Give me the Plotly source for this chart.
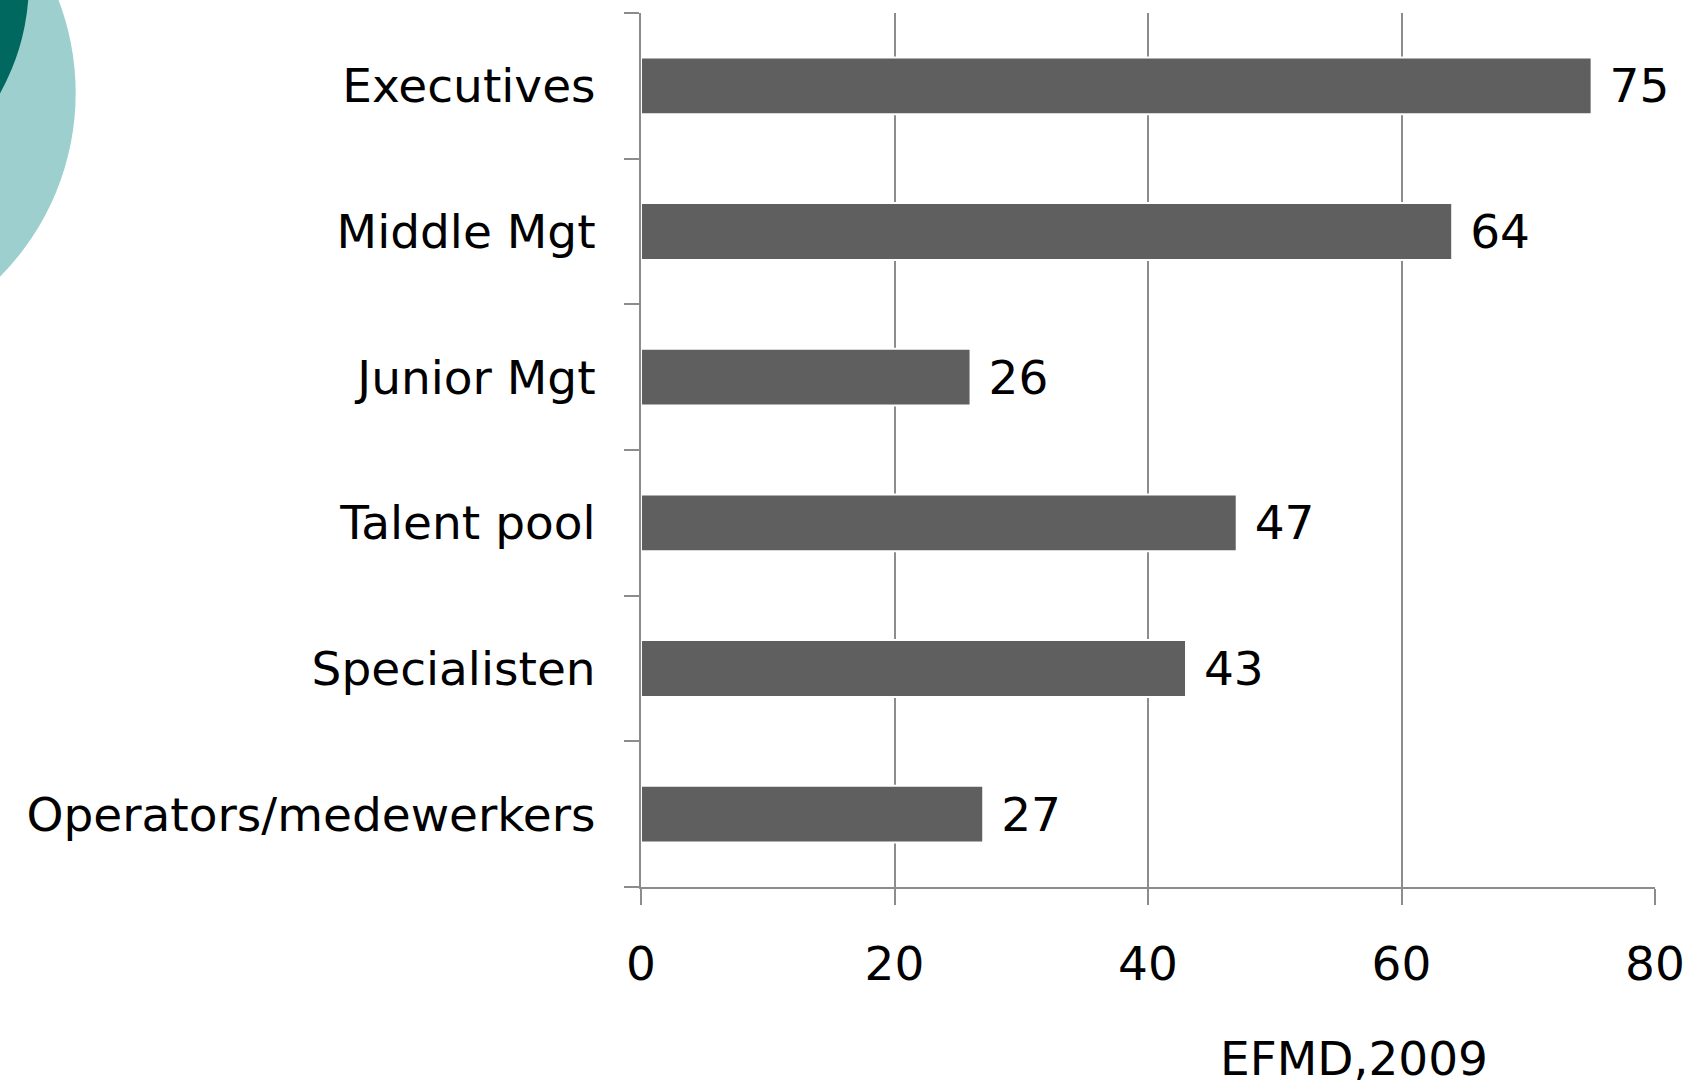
import plotly.graph_objects as go

categories = ["Executives", "Middle Mgt", "Junior Mgt", "Talent pool", "Specialisten", "Operators/medewerkers"]
values = [75, 64, 26, 47, 43, 27]
x_ticks = [0, 20, 40, 60, 80]
source_note = "EFMD,2009"

FONT = "DejaVu Sans, Verdana, sans-serif"
GRID = "#8c8c8c"

fig = go.Figure()
fig.add_trace(go.Bar(
    y=categories,
    x=values,
    orientation="h",
    marker=dict(color="#5f5f5f", line=dict(color="#ffffff", width=2)),
    text=values,
    texttemplate="\u00a0%{x}",
    textposition="outside",
    textfont=dict(family=FONT, size=47, color="#000000"),
    cliponaxis=False,
    showlegend=False,
))

# decorative circles (top-left corner)
fig.add_shape(type="circle", xref="paper", yref="paper",
              x0=-1.0717, x1=-0.5575, y0=0.6102, y1=1.2067,
              fillcolor="#9dcfce", line=dict(width=0), layer="below")
fig.add_shape(type="circle", xref="paper", yref="paper",
              x0=-1.0552, x1=-0.6036, y0=0.7735, y1=1.2975,
              fillcolor="#00685f", line=dict(width=0), layer="below")

fig.add_annotation(text=source_note, xref="paper", yref="paper",
                   x=0.703, y=-0.1965, xanchor="center", yanchor="middle",
                   showarrow=False, font=dict(family=FONT, size=47, color="#000000"))

fig.update_layout(
    width=1697, height=1086,
    margin=dict(l=641, r=42, t=13, b=199),
    paper_bgcolor="white", plot_bgcolor="white",
    bargap=0.61,
    font=dict(family=FONT, size=47, color="#000000"),
    xaxis=dict(
        range=[0, 80], tickvals=x_ticks, showgrid=True, gridcolor=GRID, gridwidth=1.5,
        showline=True, linecolor=GRID, linewidth=2, zeroline=False,
        ticks="outside", ticklen=16, tickcolor=GRID, tickwidth=1.5,
        ticklabelstandoff=19,
        tickfont=dict(family=FONT, size=47, color="#000000"),
    ),
    yaxis=dict(
        categoryorder="array", categoryarray=categories[::-1],
        showline=True, linecolor=GRID, linewidth=2, showgrid=False,
        ticks="outside", ticklen=15, tickcolor=GRID, tickwidth=1.5,
        tickson="boundaries", ticklabelstandoff=34,
        tickfont=dict(family=FONT, size=47, color="#000000"),
    ),
)

fig.write_html("out.html", config={"displayModeBar": False},
               post_script="document.body.style.margin='0';")
